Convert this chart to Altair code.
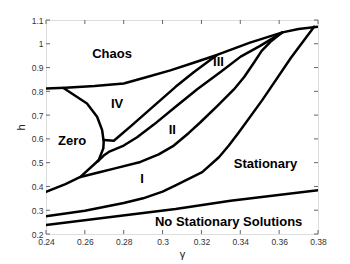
import altair as alt
import pandas as pd

# ---- data ----
A_g = [0.24, 0.25, 0.265, 0.28, 0.292, 0.304, 0.316, 0.328, 0.345, 0.3617, 0.37, 0.38]
A_h = [0.812, 0.815, 0.822, 0.833, 0.860, 0.888, 0.920, 0.953, 1.005, 1.048, 1.062, 1.072]

Z_g = [0.249, 0.2611, 0.2663, 0.2689, 0.2697, 0.2695, 0.2671, 0.2577, 0.25, 0.24]
Z_h = [0.814, 0.749, 0.693, 0.637, 0.588, 0.56, 0.51, 0.44, 0.41, 0.377]

D_g = [0.2697, 0.2749, 0.2843, 0.2938, 0.3067, 0.316, 0.328]
D_h = [0.595, 0.592, 0.658, 0.726, 0.819, 0.88, 0.953]

E_g = [0.2665, 0.2697, 0.2723, 0.28, 0.2869, 0.2955, 0.3067, 0.318, 0.33, 0.3402, 0.35, 0.3617]
E_h = [0.505, 0.53, 0.545, 0.572, 0.607, 0.66, 0.735, 0.81, 0.882, 0.946, 0.99, 1.048]

B_g = [0.2577, 0.268, 0.275, 0.2886, 0.298, 0.3058, 0.3092, 0.3135, 0.3195, 0.3281,
       0.3367, 0.342, 0.347, 0.351, 0.3555, 0.3617]
B_h = [0.44, 0.461, 0.475, 0.503, 0.535, 0.572, 0.595, 0.625, 0.67, 0.738,
       0.808, 0.86, 0.92, 0.97, 1.008, 1.048]

C_g = [0.24, 0.26, 0.28, 0.29, 0.3, 0.3067, 0.3204, 0.329, 0.3341, 0.3393, 0.3513, 0.3548, 0.366, 0.378]
C_h = [0.275, 0.298, 0.33, 0.35, 0.378, 0.404, 0.46, 0.523, 0.572, 0.628, 0.763, 0.805, 0.94, 1.072]

F_g = [0.24, 0.3067, 0.335, 0.38]
F_h = [0.238, 0.305, 0.34, 0.384]

label_text = ["Chaos", "IV", "III", "II", "I", "Zero", "Stationary", "No Stationary Solutions"]
label_g = [0.274, 0.2766, 0.3288, 0.305, 0.2895, 0.2534, 0.353, 0.334]
label_h = [0.957, 0.746, 0.925, 0.637, 0.432, 0.593, 0.495, 0.252]

x_ticks = [0.24, 0.26, 0.28, 0.3, 0.32, 0.34, 0.36, 0.38]
y_ticks = [0.2, 0.3, 0.4, 0.5, 0.6, 0.7, 0.8, 0.9, 1.0, 1.1]

# ---- build tables ----
rows = []
for name, gs, hs in [("A", A_g, A_h), ("Z", Z_g, Z_h), ("D", D_g, D_h), ("E", E_g, E_h),
                     ("B", B_g, B_h), ("C", C_g, C_h), ("F", F_g, F_h)]:
    for i, (g, h) in enumerate(zip(gs, hs)):
        rows.append({"curve": name, "i": i, "g": g, "h": h})
curves = pd.DataFrame(rows)
labels = pd.DataFrame({"t": label_text, "g": label_g, "h": label_h})
xt = pd.DataFrame({"g": x_ticks})
yt = pd.DataFrame({"h": y_ticks})

W, H = 272, 214
FONT = "Liberation Sans"

xs = alt.Scale(domain=[0.24, 0.38], nice=False, zero=False)
ys = alt.Scale(domain=[0.2, 1.1], nice=False, zero=False)

xax = alt.Axis(values=x_ticks, format="~g", tickSize=0, domain=False, grid=False,
               labelOverlap=False, labelFlush=False,
               labelFontSize=8.5, labelFont=FONT, labelColor="#333333", labelPadding=3,
               title="γ", titleFont=FONT, titleFontSize=11, titleFontWeight="normal",
               titleColor="#222222", titlePadding=3)
yax = alt.Axis(values=y_ticks, format="~g", tickSize=0, domain=False, grid=False,
               labelOverlap=False, labelFlush=False,
               labelFontSize=8.5, labelFont=FONT, labelColor="#333333", labelPadding=3,
               title="h", titleFont=FONT, titleFontSize=11, titleFontWeight="normal",
               titleColor="#222222", titlePadding=5)

X = lambda: alt.X("g:Q", scale=xs, axis=xax, title="γ")
Y = lambda: alt.Y("h:Q", scale=ys, axis=yax, title="h")

lines = alt.Chart(curves).mark_line(color="black", strokeWidth=2.5, strokeJoin="round",
                                    strokeCap="round", clip=True).encode(
    x=X(), y=Y(), detail="curve:N", order="i:Q")

text = alt.Chart(labels).mark_text(font=FONT, fontSize=13, fontWeight="bold",
                                   color="black").encode(x=X(), y=Y(), text="t:N")

tick_style = dict(color="#666666", strokeWidth=1)
xb = alt.Chart(xt).mark_rule(**tick_style).encode(
    x=X(), y=alt.value(H), y2=alt.value(H - 4))
xtop = alt.Chart(xt).mark_rule(**tick_style).encode(
    x=X(), y=alt.value(0), y2=alt.value(4))
yl = alt.Chart(yt).mark_rule(**tick_style).encode(
    y=Y(), x=alt.value(0), x2=alt.value(4))
yr = alt.Chart(yt).mark_rule(**tick_style).encode(
    y=Y(), x=alt.value(W), x2=alt.value(W - 4))

chart = alt.layer(lines, xb, xtop, yl, yr, text).properties(
    width=W, height=H,
    autosize=alt.AutoSizeParams(type="none"),
    padding={"left": 38, "top": 12, "right": 24, "bottom": 40},
).configure_view(stroke="#555555", strokeWidth=1).configure_axis(
    labelOverlap=False
).configure(background="white")

chart.save("out.html", embed_options={"renderer": "svg", "actions": False})
